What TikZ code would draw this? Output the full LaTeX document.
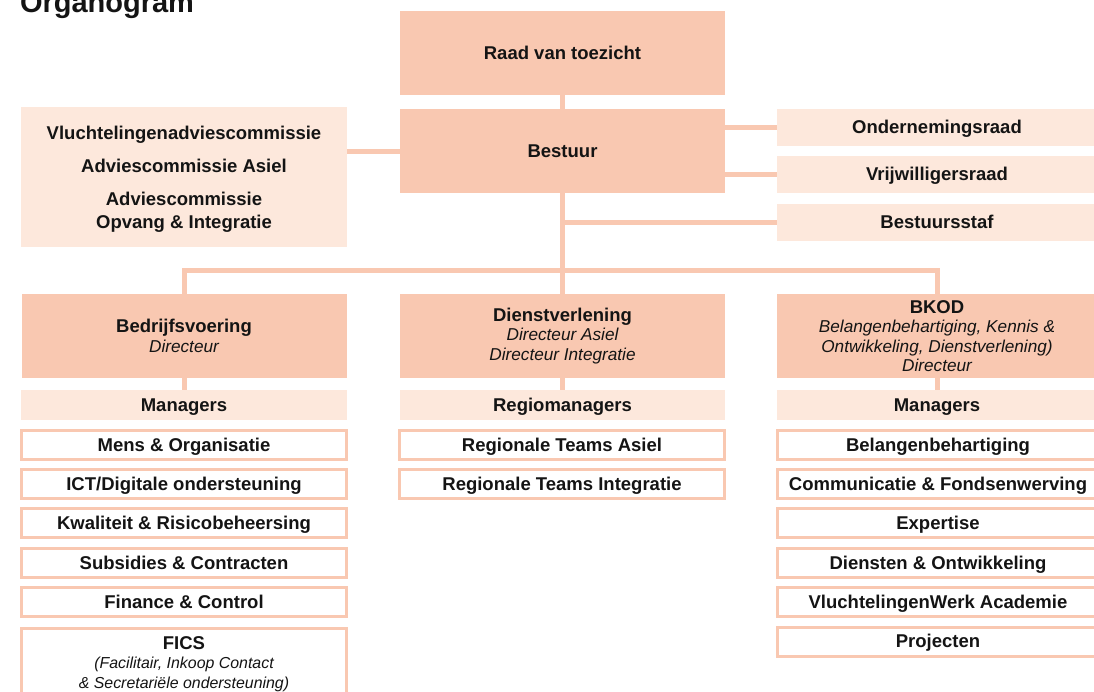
\documentclass[tikz,border=0pt]{standalone}
\usepackage{fontspec}
\setmainfont{Liberation Sans}
\usetikzlibrary{backgrounds}
\definecolor{cdark}{HTML}{F9C8B1}
\definecolor{clight}{HTML}{FDE8DC}
\definecolor{cline}{HTML}{F9C8B1}
\definecolor{ctext}{HTML}{141414}
\newcommand{\itl}[1]{{\mdseries\itshape\fontsize{17.2}{19.5}\selectfont #1}}
\newcommand{\its}[1]{{\mdseries\itshape\fontsize{15.9}{19.5}\selectfont #1}}
\tikzset{
  base/.style={inner sep=0pt, outer sep=0pt, text=ctext, align=center,
    font=\bfseries\fontsize{18.5}{19.5}\selectfont},
  one/.style={text height=12.6pt, text depth=0pt},
  dark/.style={base, fill=cdark, minimum width=325pt, minimum height=84pt},
  light/.style={base, fill=clight, minimum width=326pt, minimum height=30pt},
  sub/.style={base, draw=cdark, line width=3pt, fill=white, minimum width=325pt, minimum height=29pt},
  conn/.style={draw=cline, line width=5pt},
}
\begin{document}
\begin{tikzpicture}[x=1pt,y=-1pt]
\useasboundingbox (0,0) rectangle (1094,691);
\node[base, anchor=base west, font=\bfseries\fontsize{29}{34}\selectfont] (title) at (20,12) {Organogram};

\node[dark, one] (raad) at (562.5,53) {Raad van toezicht};
\node[dark, one] (bestuur) at (562.5,151) {Bestuur};
\node[light, minimum height=140pt, font=\bfseries\fontsize{18.5}{23}\selectfont] (comm) at (184,177)
  {\rule{0pt}{17.5pt}Vluchtelingenadviescommissie\\[10pt]Adviescommissie Asiel\\[10pt]Adviescommissie\\Opvang \& Integratie};
\node[light, one, minimum width=320pt, minimum height=37pt] (onr) at (937,127.5) {Ondernemingsraad};
\node[light, one, minimum width=320pt, minimum height=37pt] (vwr) at (937,174.5) {Vrijwilligersraad};
\node[light, one, minimum width=320pt, minimum height=37pt] (staf) at (937,222.5) {Bestuursstaf};

\coordinate (bar) at (562.5,270.5);

\node[dark] (bedr) at (184,336) {Bedrijfsvoering\\\itl{Directeur}};
\node[dark] (dienst) at (562.5,336) {Dienstverlening\\\itl{Directeur Asiel}\\\itl{Directeur Integratie}};
\node[dark, minimum width=320pt] (bkod) at (937,336) {BKOD\\\itl{Belangenbehartiging, Kennis \&}\\\itl{Ontwikkeling, Dienstverlening)}\\\itl{Directeur}};

\node[light, one] (mgrA) at (184,405) {Managers};
\node[light, one, minimum width=325pt] (mgrB) at (562.5,405) {Regiomanagers};
\node[light, one, minimum width=320pt] (mgrC) at (937,405) {Managers};

\node[sub, one] (a1) at (184,445) {Mens \& Organisatie};
\node[sub, one] (a2) at (184,484) {ICT/Digitale ondersteuning};
\node[sub, one] (a3) at (184,523) {Kwaliteit \& Risicobeheersing};
\node[sub, one] (a4) at (184,563) {Subsidies \& Contracten};
\node[sub, one] (a5) at (184,602) {Finance \& Control};
\node[sub, minimum height=72pt] (a6) at (184,664) {FICS\\\its{(Facilitair, Inkoop Contact}\\\its{\& Secretariële ondersteuning)}};

\node[sub, one] (b1) at (562,445) {Regionale Teams Asiel};
\node[sub, one] (b2) at (562,484) {Regionale Teams Integratie};

\node[sub, one, minimum width=321pt] (c1) at (938,445) {Belangenbehartiging};
\node[sub, one, minimum width=321pt] (c2) at (938,484) {Communicatie \& Fondsenwerving};
\node[sub, one, minimum width=321pt] (c3) at (938,523) {Expertise};
\node[sub, one, minimum width=321pt] (c4) at (938,563) {Diensten \& Ontwikkeling};
\node[sub, one, minimum width=321pt] (c5) at (938,602) {VluchtelingenWerk Academie};
\node[sub, one, minimum width=321pt] (c6) at (938,641.5) {Projecten};

\begin{scope}[on background layer]
\draw[conn] (raad.south) -- (bestuur.north);
\draw[conn] (comm.east |- bestuur.west) -- (bestuur.west);
\draw[conn] (bestuur.east |- onr.west) -- (onr.west);
\draw[conn] (bestuur.east |- vwr.west) -- (vwr.west);
\draw[conn] (bestuur.south) -- (bar);
\draw[conn] (bestuur.south |- staf.west) -- (staf.west);
\draw[conn] (bedr.north) -- (bedr.north |- bar) -- (bkod.north |- bar) -- (bkod.north);
\draw[conn] (bar) -- (dienst.north);
\draw[conn] (bedr.south) -- (mgrA.north);
\draw[conn] (dienst.south) -- (mgrB.north);
\draw[conn] (bkod.south) -- (mgrC.north);
\end{scope}
\end{tikzpicture}
\end{document}
